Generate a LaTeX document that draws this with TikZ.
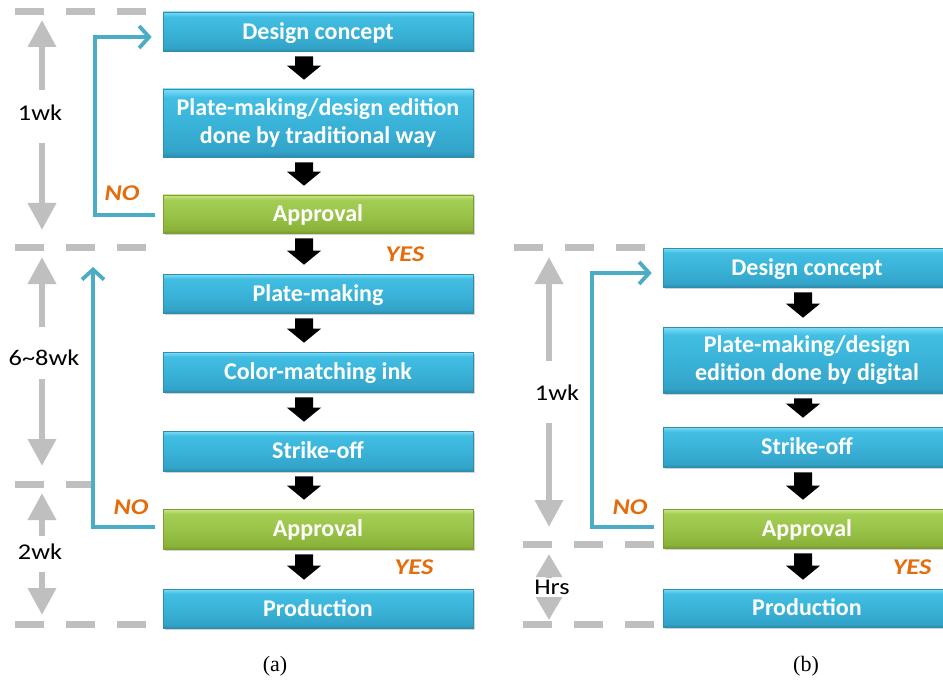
\documentclass[tikz,border=0pt]{standalone}
\usepackage{fontspec}
\setmainfont{Carlito}
\newfontfamily\labfont[FakeStretch=1.17]{Carlito}
\newfontfamily\capfont{Liberation Serif}
\usetikzlibrary{arrows.meta,calc,shadows}

\definecolor{fbblue}{HTML}{4BACC6}
\definecolor{sepgray}{HTML}{BFBFBF}
\definecolor{yesno}{HTML}{E46C0A}
\definecolor{bluebord}{HTML}{2F8DAE}
\definecolor{greenbord}{HTML}{7C9D33}
\definecolor{blueA}{HTML}{2A8DB0}
\definecolor{blueB}{HTML}{33A3C8}
\definecolor{blueC}{HTML}{3AB3D9}
\definecolor{blueD}{HTML}{42BEE3}
\definecolor{blueE}{HTML}{5FCEEF}
\definecolor{blueF}{HTML}{86DCF4}
\definecolor{greenA}{HTML}{789C2C}
\definecolor{greenB}{HTML}{8AB239}
\definecolor{greenC}{HTML}{9AC449}
\definecolor{greenD}{HTML}{A4CD54}
\definecolor{greenE}{HTML}{B8DC70}
\definecolor{greenF}{HTML}{CBE68C}

\pgfdeclareverticalshading{bluegrad}{100bp}{color(0bp)=(blueA); color(25bp)=(blueA);
  color(29bp)=(blueB); color(50bp)=(blueC); color(69bp)=(blueD); color(72bp)=(blueE);
  color(75bp)=(blueF); color(100bp)=(blueF)}
\pgfdeclareverticalshading{greengrad}{100bp}{color(0bp)=(greenA); color(25bp)=(greenA);
  color(29bp)=(greenB); color(50bp)=(greenC); color(69bp)=(greenD); color(72bp)=(greenE);
  color(75bp)=(greenF); color(100bp)=(greenF)}

% black block arrow between two stacked boxes, at a given x
\newcommand\flowarrow[3]{%
  \fill let \p1=([yshift=-5pt]#2.south), \p2=([yshift=9pt]#3.north) in
    (#1pt-9pt,\y1) -- (#1pt+9pt,\y1) -- (#1pt+9pt,\y2+14pt) -- (#1pt+17pt,\y2+14pt)
    -- (#1pt,\y2) -- (#1pt-17pt,\y2+14pt) -- (#1pt-9pt,\y2+14pt) -- cycle;}

\begin{document}
\begin{tikzpicture}[x=1pt,y=-1pt,
  box/.style={draw, line width=0.6pt, text=white, inner sep=0pt, align=center,
    font=\fontsize{24}{28}\selectfont\bfseries,
    drop shadow={shadow xshift=1.5pt,shadow yshift=-1.5pt,opacity=0.35}},
  oneline/.style={text height=17pt, text depth=1.5pt},
  bluebox/.style={box, shading=bluegrad, draw=bluebord},
  greenbox/.style={box, shading=greengrad, draw=greenbord},
  colA/.style={minimum width=310pt},
  colB/.style={minimum width=288pt},
  sepline/.style={draw=sepgray, line width=7pt, dash pattern=on 29pt off 22pt},
  span/.style={draw=sepgray, line width=6.5pt, -{Triangle[width=27pt,length=27pt]}},
  spanshort/.style={draw=sepgray, line width=6.5pt, -{Triangle[width=25pt,length=23pt]}},
  durlab/.style={font=\labfont\fontsize{22.5}{26}\selectfont, text=black, inner sep=0pt},
  fb/.style={draw=fbblue, line width=3.8pt, -{Straight Barb[length=10pt,width=22pt]}},
  yn/.style={text=yesno, inner sep=0pt, font=\labfont\fontsize{22.5}{26}\selectfont\bfseries\itshape},
  caption/.style={font=\capfont\fontsize{22}{24}\selectfont, inner sep=0pt}]
\clip (0,0) rectangle (943,682);
\fill[white] (0,0) rectangle (943,682);

% ---------- (a) conventional process ----------
% time separators
\draw[sepline] (15,12) -- (147,12);
\draw[sepline] (15,247) -- (147,247);
\draw[sepline] (15,484) -- (92,484);
\draw[sepline] (15,624) -- (147,624);

% durations
\node[durlab] (la1) at (40,113) {1wk};
\draw[span] (42,90) -- (42,20);
\draw[span] (42,143) -- (42,230);
\node[durlab] (la2) at (44,358) {6\textasciitilde 8wk};
\draw[span] (42,327) -- (42,257);
\draw[span] (42,379) -- (42,466);
\node[durlab] (la3) at (40,552) {2wk};
\draw[span] (42,536) -- (42,493);
\draw[span] (42,572) -- (42,615);

% process boxes
\node[bluebox, colA, oneline, minimum height=39pt] (a1) at (318,31.5) {Design concept};
\node[bluebox, colA, minimum height=68pt] (a2) at (318,123) {Plate-making/design edition\\done by traditional way};
\node[greenbox, colA, oneline, minimum height=38pt] (a3) at (318,214) {Approval};
\node[bluebox, colA, oneline, minimum height=39pt] (a4) at (318,293.5) {Plate-making};
\node[bluebox, colA, oneline, minimum height=40pt] (a5) at (318,372) {Color-matching ink};
\node[bluebox, colA, oneline, minimum height=40pt] (a6) at (318,451) {Strike-off};
\node[greenbox, colA, oneline, minimum height=40pt] (a7) at (318,529) {Approval};
\node[bluebox, colA, oneline, minimum height=39pt] (a8) at (318,608.5) {Production};

\flowarrow{304}{a1}{a2}
\flowarrow{304}{a2}{a3}
\flowarrow{304}{a3}{a4}
\flowarrow{304}{a4}{a5}
\flowarrow{304}{a5}{a6}
\flowarrow{304}{a6}{a7}
\flowarrow{304}{a7}{a8}

% rejection loops
\coordinate (ra1) at (95,37);
\draw[fb] ([xshift=-8pt,yshift=-1pt]a3.west) -| (ra1) -- ([xshift=-11pt,yshift=-5.5pt]a1.west);
\coordinate (ra2) at (93,267);
\draw[fb] ([xshift=-8pt,yshift=2pt]a7.west) -| (ra2);

\node[yn] (na1) at (122,193) {NO};
\node[yn] (na2) at (131,507) {NO};
\node[yn] (ya1) at (405,254) {YES};
\node[yn] (ya2) at (414,567) {YES};

\node[caption] (capa) at (275,666) {(a)};

% ---------- (b) digital process ----------
\draw[sepline] (514,247) -- (645,247);
\draw[sepline] (523,544) -- (654,544);
\draw[sepline] (523,624) -- (654,624);

\node[durlab] (lb1) at (557,393) {1wk};
\draw[span] (549,361) -- (549,257);
\draw[span] (549,423) -- (549,527);
\draw[spanshort] (549,577.5) -- (549,554);
\draw[spanshort] (549,596.5) -- (549,620);
\node[durlab] (lb2) at (552,587) {Hrs};

\node[bluebox, colB, oneline, minimum height=39pt] (b1) at (807,267.5) {Design concept};
\node[bluebox, colB, minimum height=66pt] (b2) at (807,360) {Plate-making/design\\edition done by digital};
\node[bluebox, colB, oneline, minimum height=40pt] (b3) at (807,447) {Strike-off};
\node[greenbox, colB, oneline, minimum height=39pt] (b4) at (807,528.5) {Approval};
\node[bluebox, colB, oneline, minimum height=38pt] (b5) at (807,608) {Production};

\flowarrow{803}{b1}{b2}
\flowarrow{803}{b2}{b3}
\flowarrow{803}{b3}{b4}
\flowarrow{803}{b4}{b5}

\coordinate (rb1) at (592,273);
\draw[fb] ([xshift=-9pt,yshift=1.5pt]b4.west) -| (rb1) -- ([xshift=-11pt,yshift=-5.5pt]b1.west);

\node[yn] (nb1) at (630,507) {NO};
\node[yn] (yb1) at (912,567) {YES};

\node[caption] (capb) at (806,666) {(b)};
\end{tikzpicture}
\end{document}
